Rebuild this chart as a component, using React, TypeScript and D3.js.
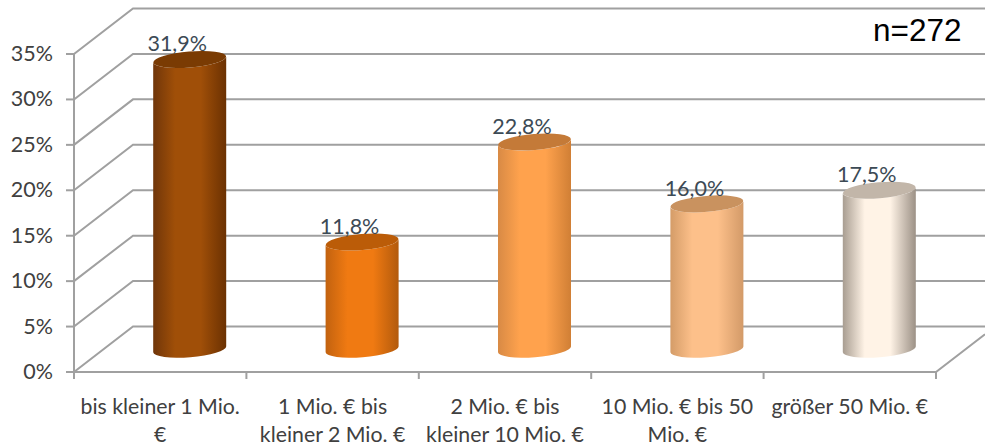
import React from "react";
import * as d3 from "d3";

const categories = [
  ["bis kleiner 1 Mio.", "€"],
  ["1 Mio. € bis", "kleiner 2 Mio. €"],
  ["2 Mio. € bis", "kleiner 10 Mio. €"],
  ["10 Mio. € bis 50", "Mio. €"],
  ["größer 50 Mio. €"],
];
const values = [31.9, 11.8, 22.8, 16.0, 17.5];
const valueLabels = ["31,9%", "11,8%", "22,8%", "16,0%", "17,5%"];
const yTicks = [0, 5, 10, 15, 20, 25, 30, 35];
// cylinder shading: near edge, centre, far edge, top cap
const barEdge = ["#70360a", "#c2620f", "#d88a45", "#d49c68", "#a89d91"];
const barMid = ["#a04f08", "#f07a12", "#ffa24d", "#fdc08a", "#fff3e6"];
const barFarEdge = ["#6b3102", "#b25a0c", "#d07f35", "#d39a68", "#9c9186"];
const barCap = ["#7a3b03", "#bb5c08", "#c47a38", "#c9925f", "#c2b6a9"];

const W = 985;
const H = 448;
const FONT = "Lato, 'Open Sans', sans-serif";
const GRID = "#a0a0a0";

const frontX = [74, 936];
const depth = { dx: 59, dy: -45.5 };
const rx = 36.5;
const ry = 8;
const tilt = 3;

const y = d3.scaleLinear().domain([0, 35]).range([372, 54]);
const x = d3.scaleBand<number>().domain(d3.range(categories.length)).range(frontX);

export default function App() {
  const tiltDeg = (-Math.atan2(tilt, rx) * 180) / Math.PI;
  const line = d3.line();
  return (
    <svg
      width={W}
      height={H}
      viewBox={`0 0 ${W} ${H}`}
      style={{ position: "absolute", left: 0, top: 0, background: "#fff" }}
    >
      <defs>
        {values.map((_, i) => (
          <linearGradient key={i} id={`bar${i}`} x1="0" x2="1" y1="0" y2="0">
            <stop offset="0" stopColor={barEdge[i]} />
            <stop offset="0.3" stopColor={barMid[i]} />
            <stop offset="0.65" stopColor={barMid[i]} />
            <stop offset="1" stopColor={barFarEdge[i]} />
          </linearGradient>
        ))}
      </defs>

      {/* back wall gridlines and the diagonal side-wall lines */}
      <g stroke={GRID} strokeWidth={2} fill="none">
        {yTicks.map((t) => (
          <g key={t}>
            <path
              d={
                line([
                  [frontX[0], y(t)],
                  [frontX[0] + depth.dx, y(t) + depth.dy],
                  [W, y(t) + depth.dy],
                ]) as string
              }
            />
            <path d={line([[frontX[0] - 8, y(t)], [frontX[0], y(t)]]) as string} />
          </g>
        ))}
        <path d={line([[frontX[0], y(35)], [frontX[0], y(0) + 6]]) as string} />
        <path
          d={
            line([
              [frontX[0], y(0)],
              [frontX[1], y(0)],
              [W, y(0) + (depth.dy * (W - frontX[1])) / depth.dx],
            ]) as string
          }
        />
        {d3.range(categories.length + 1).map((i) => {
          const px = frontX[0] + i * x.step();
          return <path key={i} d={line([[px, y(0)], [px, y(0) + 7]]) as string} />;
        })}
      </g>

      {/* cylinders */}
      {values.map((v, i) => {
        const cx = (x(i) as number) + x.bandwidth() / 2 + depth.dx / 2;
        const base = y(0) + depth.dy / 2;
        const top = y(v) + depth.dy / 2;
        const body = `M${cx - rx},${top + tilt} L${cx - rx},${base + tilt} A${rx},${ry} ${tiltDeg} 0 0 ${cx + rx},${base - tilt} L${cx + rx},${top - tilt} A${rx},${ry} ${tiltDeg} 0 1 ${cx - rx},${top + tilt} Z`;
        return (
          <g key={i}>
            <path d={body} fill={`url(#bar${i})`} />
            <ellipse
              cx={cx}
              cy={top}
              rx={rx}
              ry={ry}
              fill={barCap[i]}
              transform={`rotate(${tiltDeg} ${cx} ${top})`}
            />
          </g>
        );
      })}

      {/* value labels */}
      {values.map((v, i) => (
        <text
          key={i}
          x={(x(i) as number) + x.bandwidth() / 2 + 17}
          y={y(v) + depth.dy / 2 - 8}
          textAnchor="middle"
          fontFamily={FONT}
          fontSize={21.5}
          fill="#3c4a55"
        >
          {valueLabels[i]}
        </text>
      ))}

      {/* value axis labels */}
      {yTicks.map((t) => (
        <text
          key={t}
          x={53}
          y={y(t) + 7}
          textAnchor="end"
          fontFamily={FONT}
          fontSize={21.5}
          fill="#404040"
        >
          {t}%
        </text>
      ))}

      {/* category labels */}
      {categories.map((lines, i) => (
        <text
          key={i}
          textAnchor="middle"
          fontFamily={FONT}
          fontSize={21.3}
          fill="#404040"
        >
          {lines.map((s, j) => (
            <tspan key={j} x={(x(i) as number) + x.bandwidth() / 2} y={414 + j * 28}>
              {s}
            </tspan>
          ))}
        </text>
      ))}

      <text x={873} y={41} fontFamily="'Liberation Sans', Arial, sans-serif" fontSize={31.5} fill="#000">
        n=272
      </text>
    </svg>
  );
}
